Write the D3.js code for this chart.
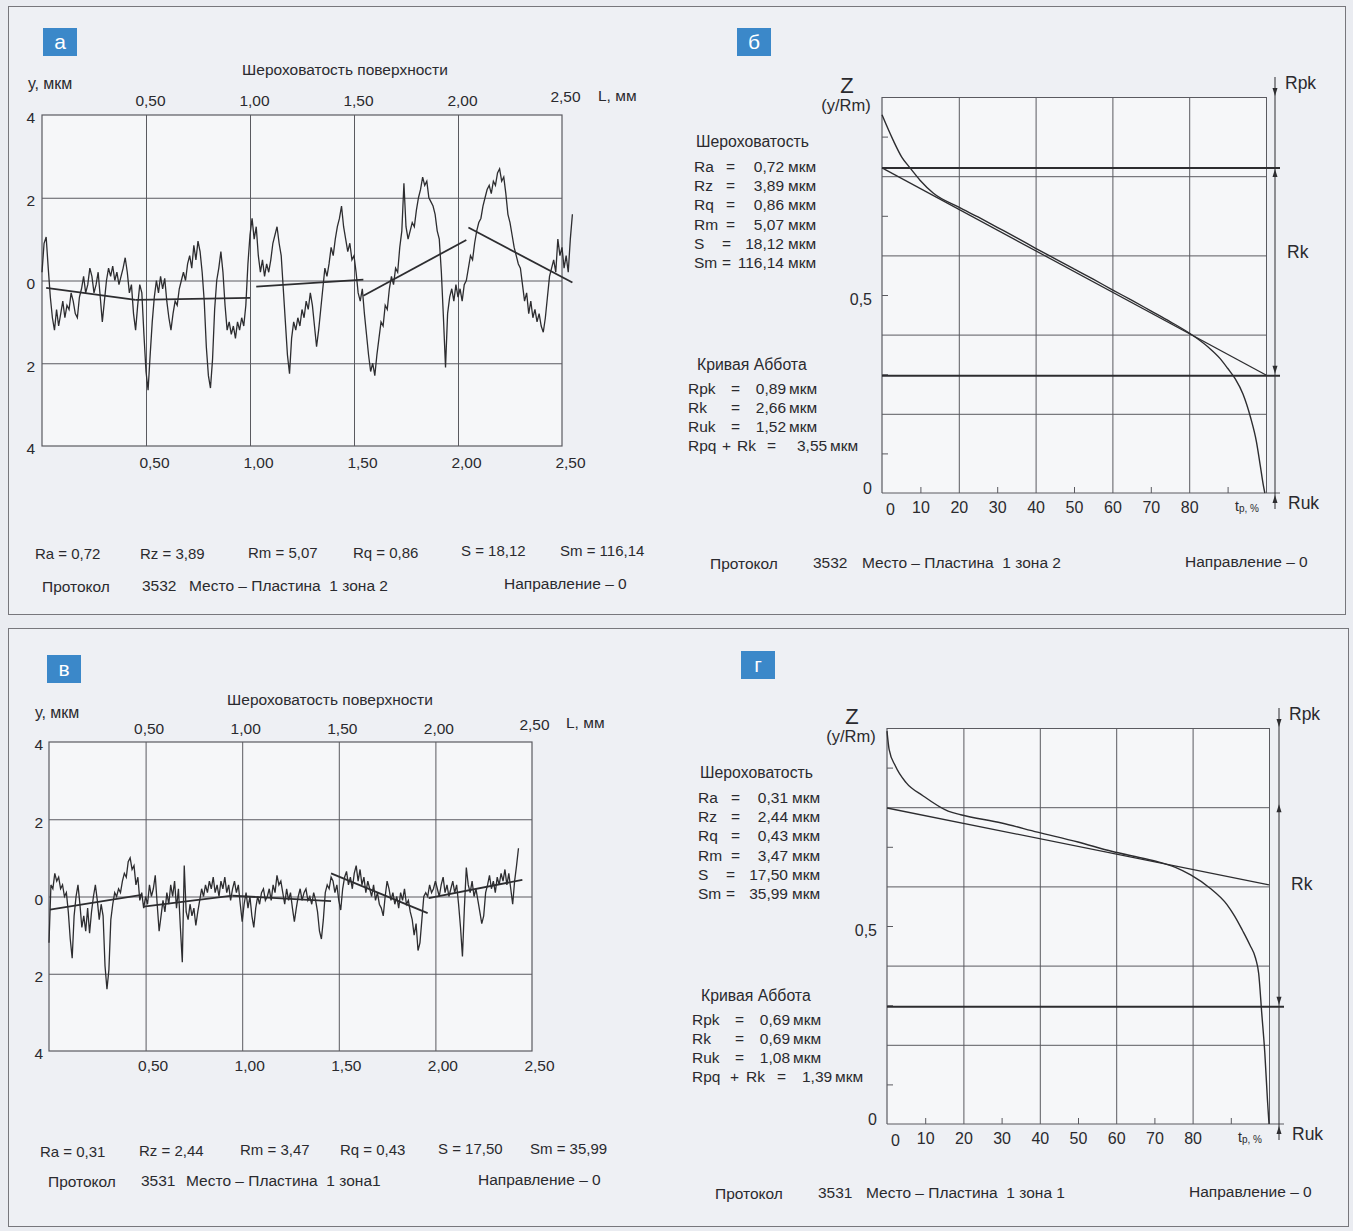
<!DOCTYPE html>
<html><head><meta charset="utf-8">
<script src="https://cdn.jsdelivr.net/npm/d3@7"></script>
<style>
body{margin:0;background:#eaecf1;}
svg{display:block;font-family:"Liberation Sans",Arial,sans-serif;}
text{white-space:pre;}
</style></head><body>
<svg id="c" width="1353" height="1231"></svg>
<script>
// ---------------- DATA ----------------
const stepL = 0.01; // profile sampling step, mm
// panel а profile, µm, L = 0 .. 2.55 mm
const profileA = [
 0.2,0.9,1.05,0.3,-0.4,-0.9,-1.2,-0.7,-1.1,-0.8,
 -0.5,-0.9,-0.6,-0.7,-0.3,-0.5,-0.8,-0.9,-0.4,-0.2,
 0.1,-0.3,-0.1,0.3,0.1,-0.3,-0.1,0.2,-0.4,-1.0,
 -0.5,0.0,0.3,0.1,0.35,0.0,0.2,-0.1,0.1,0.3,
 0.55,0.2,-0.3,-0.1,-0.8,-1.2,-0.6,-0.1,-0.3,-1.3,
 -2.2,-2.65,-1.8,-1.0,-0.4,0.0,-0.3,0.1,-0.2,0.05,
 -0.5,-0.9,-1.2,-0.8,-0.5,-0.6,-0.2,0.0,0.2,0.0,
 0.4,0.6,0.3,0.85,0.5,0.95,0.7,0.2,-0.5,-1.6,
 -2.3,-2.6,-1.9,-0.7,0.0,0.3,0.7,0.2,-0.6,-1.2,
 -1.0,-1.3,-1.1,-1.4,-1.0,-1.2,-0.9,-1.1,-0.6,0.4,
 1.1,1.5,1.0,1.3,0.6,0.2,0.5,0.1,0.4,0.2,
 0.5,0.9,1.1,1.3,0.9,0.6,-0.2,-1.0,-1.8,-2.25,
 -1.4,-1.0,-1.2,-0.9,-1.1,-0.7,-0.9,-0.5,-0.7,-0.3,
 -0.6,-1.1,-1.6,-1.2,-0.7,-0.2,0.3,0.1,0.4,0.8,
 0.6,1.0,1.3,1.5,1.8,1.3,1.0,0.7,0.9,0.5,
 0.6,0.2,-0.3,-0.5,-0.2,-0.8,-1.3,-1.8,-2.2,-2.0,
 -2.3,-1.8,-1.4,-1.0,-1.1,-0.6,-0.7,-0.2,0.1,-0.1,
 0.3,0.2,0.8,1.2,2.35,1.3,1.0,1.2,1.4,1.3,
 1.7,2.0,2.2,2.5,2.3,2.4,2.0,1.9,1.8,1.6,
 1.2,1.0,0.2,-0.9,-2.1,-0.8,-0.4,-0.2,-0.5,-0.1,
 -0.4,-0.2,-0.5,-0.1,0.0,0.3,0.6,0.5,0.9,1.2,
 1.4,1.5,1.8,2.0,2.2,2.3,2.1,2.4,2.3,2.6,
 2.7,2.4,2.5,2.1,1.6,1.4,1.1,0.8,0.6,0.4,
 0.3,-0.1,-0.5,-0.3,-0.8,-0.5,-0.9,-0.7,-1.0,-0.8,
 -1.1,-1.25,-0.9,-0.4,0.1,0.3,0.5,0.2,1.0,0.6,
 0.8,0.3,0.6,0.2,1.0,1.6
];
// panel а mean-line segments [L0, y0, L1, y1]
const meanA = [[0.02,-0.18,0.45,-0.47],[0.45,-0.47,1.0,-0.42],[1.03,-0.15,1.545,0.02],[1.545,-0.37,2.04,0.98],[2.05,1.28,2.55,-0.05]];

// panel в profile, µm, L = 0 .. 2.43 mm
const profileB = [
 -1.2,0.3,0.2,0.6,0.4,0.5,0.2,0.3,0.0,0.1,
 -0.4,-1.1,-1.6,-0.5,0.0,0.3,-0.2,-0.8,-0.5,-0.9,
 -0.3,-0.95,-0.4,0.0,0.3,-0.1,-0.6,-0.2,-0.5,-1.8,
 -2.4,-1.9,-0.6,-0.2,0.1,0.0,0.2,0.1,0.4,0.6,
 0.5,0.9,1.0,0.7,0.8,0.3,0.5,-0.1,0.1,-0.3,
 0.0,-0.2,0.3,0.0,0.2,0.55,-0.2,-0.9,-0.5,-0.1,
 -0.4,0.1,-0.2,0.3,0.0,0.4,-0.3,0.2,-0.8,-1.7,
 0.8,-0.4,-0.6,-0.2,-0.5,-0.3,-0.75,-0.4,-0.1,0.2,
 0.0,0.3,0.1,0.4,0.2,0.5,0.1,0.3,0.0,0.4,
 0.2,0.5,0.1,0.3,-0.1,0.2,0.4,0.1,0.3,-0.2,
 -0.65,-0.2,0.1,-0.3,0.0,-0.5,-0.8,-0.3,0.0,-0.2,
 0.1,0.2,-0.1,0.0,0.2,-0.1,0.3,0.1,0.55,0.3,
 0.4,0.1,-0.2,0.2,-0.1,0.1,-0.3,-0.65,-0.3,0.0,
 0.2,-0.1,0.1,0.2,-0.1,0.0,-0.2,0.1,-0.1,-0.4,
 -0.9,-1.1,-0.6,0.1,0.3,0.2,0.5,0.4,0.1,0.3,
 -0.1,-0.35,0.2,0.5,0.65,0.3,0.5,0.2,0.6,0.8,
 0.4,0.7,0.3,0.5,0.1,0.4,0.2,0.0,0.3,-0.1,
 0.1,-0.2,-0.3,-0.5,0.0,0.4,0.2,-0.1,0.1,-0.2,
 0.0,-0.3,0.1,-0.1,0.2,-0.2,-0.1,-0.4,-0.6,-1.0,
 -0.7,-1.4,-1.2,-0.6,0.0,0.1,0.0,0.3,0.1,0.2,
 0.4,0.2,0.0,0.3,0.5,0.1,0.3,0.0,0.2,0.4,
 0.1,0.3,-0.2,-0.8,-1.55,-0.3,0.75,0.3,0.1,0.4,
 0.0,0.2,-0.1,-0.4,-0.7,-0.5,0.1,0.3,0.55,0.2,
 0.4,0.1,0.5,0.3,0.6,0.4,0.7,0.3,0.6,0.2,
 -0.2,0.4,0.8,1.25
];
const meanB = [[0.005,-0.34,0.48,0.04],[0.49,-0.26,0.95,0.02],[0.95,0.02,1.46,-0.12],[1.46,0.6,1.96,-0.43],[1.965,-0.04,2.45,0.43]];

// profile axes
const profileGridL = [0.5,1.0,1.5,2.0];
const profileTickL = [0.5,1.0,1.5,2.0,2.5];
const profileGridY = [-2,0,2];
const profileTickY = [4,2,0,-2,-4];

// Abbott curves (tp %, z = y/Rm)
const abbottB_tp = [0,2.9,5.1,7.3,9.9,13.4,20,25,30,35,40,45,50,55,60,65,70,75,80,85,88,90,92,94,96,97.5,98.5,99.3,99.7];
const abbottB_z  = [0.955,0.891,0.849,0.821,0.79,0.757,0.722,0.697,0.671,0.645,0.618,0.592,0.566,0.54,0.513,0.487,0.46,0.433,0.404,0.368,0.34,0.315,0.288,0.25,0.19,0.13,0.07,0.02,0.0];
const secantB = [[0,0.821],[100,0.298]];
const thickB = [0.821,0.296];

const abbottG_tp = [0,0.55,2.2,5,9.4,16,19.3,30,39.4,50,59,66,71,75.5,79.5,84.5,89,91,93,95,96.5,97.3,98.1,98.9,99.6,100];
const abbottG_z  = [0.992,0.946,0.904,0.862,0.829,0.79,0.781,0.76,0.737,0.712,0.688,0.673,0.662,0.648,0.629,0.596,0.554,0.525,0.49,0.452,0.418,0.38,0.28,0.18,0.06,0.0];
const secantG = [[0,0.798],[100,0.604]];
const thickG = [0.296];

const abbottGridX = [20,40,60,80,100];
const abbottMinorX = [10,30,50,70,90];
const abbottLabelX = [0,10,20,30,40,50,60,70,80];
const abbottGridZ = [0.2,0.4,0.6,0.8,1.0];
const abbottMinorZ = [0.1,0.3,0.5,0.7,0.9];

// parameter texts
const roughNames = ["Ra","Rz","Rq","Rm","S","Sm"];
const roughA = ["0,72","3,89","0,86","5,07","18,12","116,14"];
const roughB = ["0,31","2,44","0,43","3,47","17,50","35,99"];
const abbNames = ["Rpk","Rk","Ruk"];
const abbA = ["0,89","2,66","1,52"]; const sumA = "3,55";
const abbB = ["0,69","0,69","1,08"]; const sumB = "1,39";
const bottomOrder = ["Ra","Rz","Rm","Rq","S","Sm"];
const protoA = {num:"3532", place:"Место – Пластина  1 зона 2"};
const protoB = {num:"3531", place:"Место – Пластина  1 зона1"};
const protoBr = {num:"3531", place:"Место – Пластина  1 зона 1"};

// ---------------- DRAW ----------------
const svg = d3.select('#c');
const INK = '#2d2d30', GRID = '#5a5a60', FS = 15.5;
svg.append('rect').attr('width',1353).attr('height',1231).attr('fill','#eaecf1');
svg.append('rect').attr('x',8.5).attr('y',6.5).attr('width',1337).attr('height',608).attr('fill','#eef0f4').attr('stroke','#77777c');
svg.append('rect').attr('x',8.5).attr('y',628.5).attr('width',1340).attr('height',598).attr('fill','#eef0f4').attr('stroke','#77777c');

function txt(x,y,s,size,anchor,fill){
  return svg.append('text').attr('x',x).attr('y',y).attr('font-size',size||FS)
    .attr('text-anchor',anchor||'start').attr('fill',fill||'#2a2a2e').text(s);
}
function badge(x,y,s){
  svg.append('rect').attr('x',x).attr('y',y).attr('width',34).attr('height',28).attr('fill','#3b88c9');
  txt(x+17,y+21,s,21,'middle','#ffffff');
}
badge(43,28,'а'); badge(737,28,'б'); badge(47,655,'в'); badge(741,651,'г');

const fmtL = d => d.toFixed(2).replace('.',',');

function profilePanel(o){
  const x = d3.scaleLinear().domain([0,2.5]).range([o.left,o.right]);
  const y = d3.scaleLinear().domain([-4,4]).range([o.bottom,o.top]);
  const g = svg.append('g');
  g.append('rect').attr('x',o.left).attr('y',o.top).attr('width',o.right-o.left).attr('height',o.bottom-o.top).attr('fill','#f6f7f9');
  g.append('g').attr('transform',`translate(0,${o.bottom})`)
    .call(d3.axisBottom(x).tickValues(profileGridL).tickSize(-(o.bottom-o.top)).tickFormat(''))
    .call(s=>{s.select('.domain').remove(); s.selectAll('line').attr('stroke',GRID).attr('stroke-width',1);});
  g.append('g').attr('transform',`translate(${o.left},0)`)
    .call(d3.axisLeft(y).tickValues(profileGridY).tickSize(-(o.right-o.left)).tickFormat(''))
    .call(s=>{s.select('.domain').remove(); s.selectAll('line').attr('stroke',GRID).attr('stroke-width',1);});
  g.append('rect').attr('x',o.left).attr('y',o.top).attr('width',o.right-o.left).attr('height',o.bottom-o.top).attr('fill','none').attr('stroke',GRID).attr('stroke-width',1.2);
  const styleT = s => s.attr('font-size',FS).attr('fill','#2a2a2e').attr('font-family','Liberation Sans, Arial, sans-serif');
  const top = g.append('g').attr('transform',`translate(${o.topDx},${o.top})`)
    .call(d3.axisTop(x).tickValues(profileTickL).tickSize(0).tickPadding(o.topPad).tickFormat(fmtL));
  top.select('.domain').remove();
  styleT(top.selectAll('text')).attr('transform',d=>d===2.5?'translate(-1,-4)':null);
  const bot = g.append('g').attr('transform',`translate(${o.botDx},${o.bottom})`)
    .call(d3.axisBottom(x).tickValues(profileTickL).tickSize(0).tickPadding(o.botPad).tickFormat(fmtL));
  bot.select('.domain').remove();
  styleT(bot.selectAll('text'));
  const lef = g.append('g').attr('transform',`translate(${o.left},3)`)
    .call(d3.axisLeft(y).tickValues(profileTickY).tickSize(0).tickPadding(o.leftPad).tickFormat(d=>Math.abs(d)));
  lef.select('.domain').remove();
  styleT(lef.selectAll('text'));
  const line = d3.line().x((d,i)=>x(i*stepL)).y(d=>y(d));
  g.append('path').datum(o.values).attr('d',line).attr('fill','none').attr('stroke',INK).attr('stroke-width',1.3).attr('stroke-linejoin','miter');
  g.selectAll('line.mean').data(o.means).join('line').attr('class','mean')
    .attr('x1',d=>x(d[0])).attr('y1',d=>y(d[1])).attr('x2',d=>x(d[2])).attr('y2',d=>y(d[3]))
    .attr('stroke',INK).attr('stroke-width',1.8);
}

profilePanel({left:42,right:562,top:115,bottom:446,values:profileA,means:meanA,topDx:4,topPad:9,botDx:8,botPad:11,leftPad:7});
txt(28,89,'у, мкм',16); txt(345,75,'Шероховатость поверхности',FS,'middle'); txt(598,101,'L, мм',FS);
profilePanel({left:49,right:532,top:742,bottom:1051,values:profileB,means:meanB,topDx:3,topPad:8,botDx:7,botPad:9,leftPad:6});
txt(35,718,'у, мкм',16); txt(330,705,'Шероховатость поверхности',FS,'middle'); txt(566,728,'L, мм',FS);

function statsRow(vals, xs, ys){
  bottomOrder.forEach((n,i)=>{ txt(xs[i],ys[i],n+' = '+vals[roughNames.indexOf(n)],15); });
}
statsRow(roughA, [35,140,248,353,461,560],[559,559,558,558,556,556]);
statsRow(roughB, [40,139,240,340,438,530],[1157,1156,1155,1155,1154,1154]);

function protoRow(p, x0, xNum, xPlace, xDir, y, yDir){
  txt(x0,y,'Протокол',FS); txt(xNum,y-1,p.num,FS); txt(xPlace,y-1,p.place,FS); txt(xDir,yDir,'Направление – 0',FS);
}
protoRow(protoA,42,142,189,504,592,589);
protoRow(protoA,710,813,862,1185,569,567);
protoRow(protoB,48,141,186,478,1187,1185);
protoRow(protoBr,715,818,866,1189,1199,1197);

function arrowHead(x,tipY,dir){ // dir -1 = up, 1 = down
  svg.append('path').attr('d',`M${x},${tipY} L${x-2.5},${tipY-dir*8} L${x+2.5},${tipY-dir*8} Z`).attr('fill',INK);
}

function abbottPanel(o){
  const x = d3.scaleLinear().domain([0,100]).range([o.left,o.right]);
  const y = d3.scaleLinear().domain([0,1]).range([o.bottom,o.top]);
  const g = svg.append('g');
  g.append('rect').attr('x',o.left).attr('y',o.top).attr('width',o.right-o.left).attr('height',o.bottom-o.top).attr('fill','#f6f7f9');
  g.append('g').attr('transform',`translate(0,${o.bottom})`)
    .call(d3.axisBottom(x).tickValues(abbottGridX).tickSize(-(o.bottom-o.top)).tickFormat(''))
    .call(s=>{s.select('.domain').remove(); s.selectAll('line').attr('stroke',GRID);});
  g.append('g').attr('transform',`translate(${o.left},0)`)
    .call(d3.axisLeft(y).tickValues(abbottGridZ).tickSize(-(o.right-o.left)).tickFormat(''))
    .call(s=>{s.select('.domain').remove(); s.selectAll('line').attr('stroke',GRID);});
  g.append('g').attr('transform',`translate(0,${o.bottom})`)
    .call(d3.axisBottom(x).tickValues(abbottMinorX).tickSize(-6).tickFormat(''))
    .call(s=>{s.select('.domain').remove(); s.selectAll('line').attr('stroke',GRID);});
  g.append('g').attr('transform',`translate(${o.left},0)`)
    .call(d3.axisLeft(y).tickValues(abbottMinorZ).tickSize(-6).tickFormat(''))
    .call(s=>{s.select('.domain').remove(); s.selectAll('line').attr('stroke',GRID);});
  g.append('line').attr('x1',o.left).attr('x2',o.left).attr('y1',o.top).attr('y2',o.bottom).attr('stroke',GRID).attr('stroke-width',1.2);
  g.append('line').attr('x1',o.left).attr('x2',o.arrowX+5).attr('y1',o.bottom).attr('y2',o.bottom).attr('stroke',GRID).attr('stroke-width',1.2);
  g.selectAll('line.thick').data(o.thick).join('line').attr('class','thick')
    .attr('x1',o.left).attr('x2',o.arrowX+5).attr('y1',d=>y(d)).attr('y2',d=>y(d)).attr('stroke',INK).attr('stroke-width',2);
  g.append('line').attr('x1',x(o.secant[0][0])).attr('y1',y(o.secant[0][1])).attr('x2',x(o.secant[1][0])).attr('y2',y(o.secant[1][1]))
    .attr('stroke',INK).attr('stroke-width',1.3);
  const pts = o.tp.map((t,i)=>[t,o.z[i]]);
  g.append('path').datum(pts).attr('d',d3.line().x(d=>x(d[0])).y(d=>y(d[1])).curve(d3.curveMonotoneX))
    .attr('fill','none').attr('stroke',INK).attr('stroke-width',1.4);
  g.append('line').attr('x1',o.arrowX).attr('x2',o.arrowX).attr('y1',o.top-20).attr('y2',o.bottom+16).attr('stroke',INK).attr('stroke-width',1);
  arrowHead(o.arrowX,o.top-1,1);
  arrowHead(o.arrowX,y(o.rkTop)+1,-1);
  arrowHead(o.arrowX,y(o.thick[o.thick.length-1])-2,1);
  arrowHead(o.arrowX,o.bottom+2,-1);
  const xl = g.append('g').attr('transform',`translate(0,${o.bottom})`)
    .call(d3.axisBottom(x).tickValues(abbottLabelX).tickSize(0).tickPadding(9).tickFormat(d=>d));
  xl.select('.domain').remove();
  xl.selectAll('text').attr('font-size',16).attr('fill','#2a2a2e').attr('font-family','Liberation Sans, Arial, sans-serif')
    .attr('transform',d=>d===0?'translate(8,2)':null);
  txt(o.left-10,y(0.5)+10,'0,5',16,'end');
  txt(o.left-10,y(0)+1,'0',16,'end');
  const t = txt(o.right-31,o.bottom+18,'t',14);
  t.append('tspan').attr('font-size',10).attr('dy',1).text('p, %');
  txt(o.arrowX+10,o.top-8,'Rpk',17.5); txt(o.arrowX+12,o.rkLabelY,'Rk',17.5); txt(o.arrowX+13,o.bottom+16,'Ruk',17.5);
  txt(o.left-35,o.top-4,'Z',22,'middle'); txt(o.left-36,o.top+14,'(y/Rm)',16.5,'middle');
}
abbottPanel({left:882,right:1266,top:97,bottom:493,arrowX:1275,tp:abbottB_tp,z:abbottB_z,secant:secantB,thick:thickB,rkTop:0.821,rkLabelY:258});
abbottPanel({left:887,right:1269,top:728,bottom:1124,arrowX:1279,tp:abbottG_tp,z:abbottG_z,secant:secantG,thick:thickG,rkTop:0.81,rkLabelY:890});

function paramBlock(o, vals, abb, sum){
  txt(o.x+2,o.y0,'Шероховатость',15.8);
  roughNames.forEach((n,i)=>{
    const yy = o.y0+25+i*19.2;
    txt(o.x,yy,n,FS);
    txt(i>=4?o.eqS:o.eq,yy,'=',FS);
    txt(o.valEnd,yy,vals[i],FS,'end');
    txt(o.valEnd+4,yy,'мкм',FS);
  });
  txt(o.x+3,o.y1,'Кривая Аббота',15.8);
  abbNames.forEach((n,i)=>{
    const yy = o.y1+24+i*19;
    txt(o.x-6,yy,n,FS); txt(o.eq2,yy,'=',FS);
    txt(o.valEnd+2,yy,abb[i],FS,'end'); txt(o.valEnd+5,yy,'мкм',FS);
  });
  const yy = o.y1+24+3*19;
  txt(o.x-6,yy,'Rpq',FS); txt(o.plus,yy,'+',FS); txt(o.rk,yy,'Rk',FS); txt(o.eq3,yy,'=',FS);
  txt(o.sumX,yy,sum,FS); txt(o.sumX+33,yy,'мкм',FS);
}
paramBlock({x:694,y0:147,eq:726,eqS:722,valEnd:784,y1:370,eq2:731,plus:722,rk:737,eq3:767,sumX:797}, roughA, abbA, sumA);
paramBlock({x:698,y0:778,eq:731,eqS:726,valEnd:788,y1:1001,eq2:735,plus:730,rk:746,eq3:777,sumX:802}, roughB, abbB, sumB);
</script>
</body></html>
